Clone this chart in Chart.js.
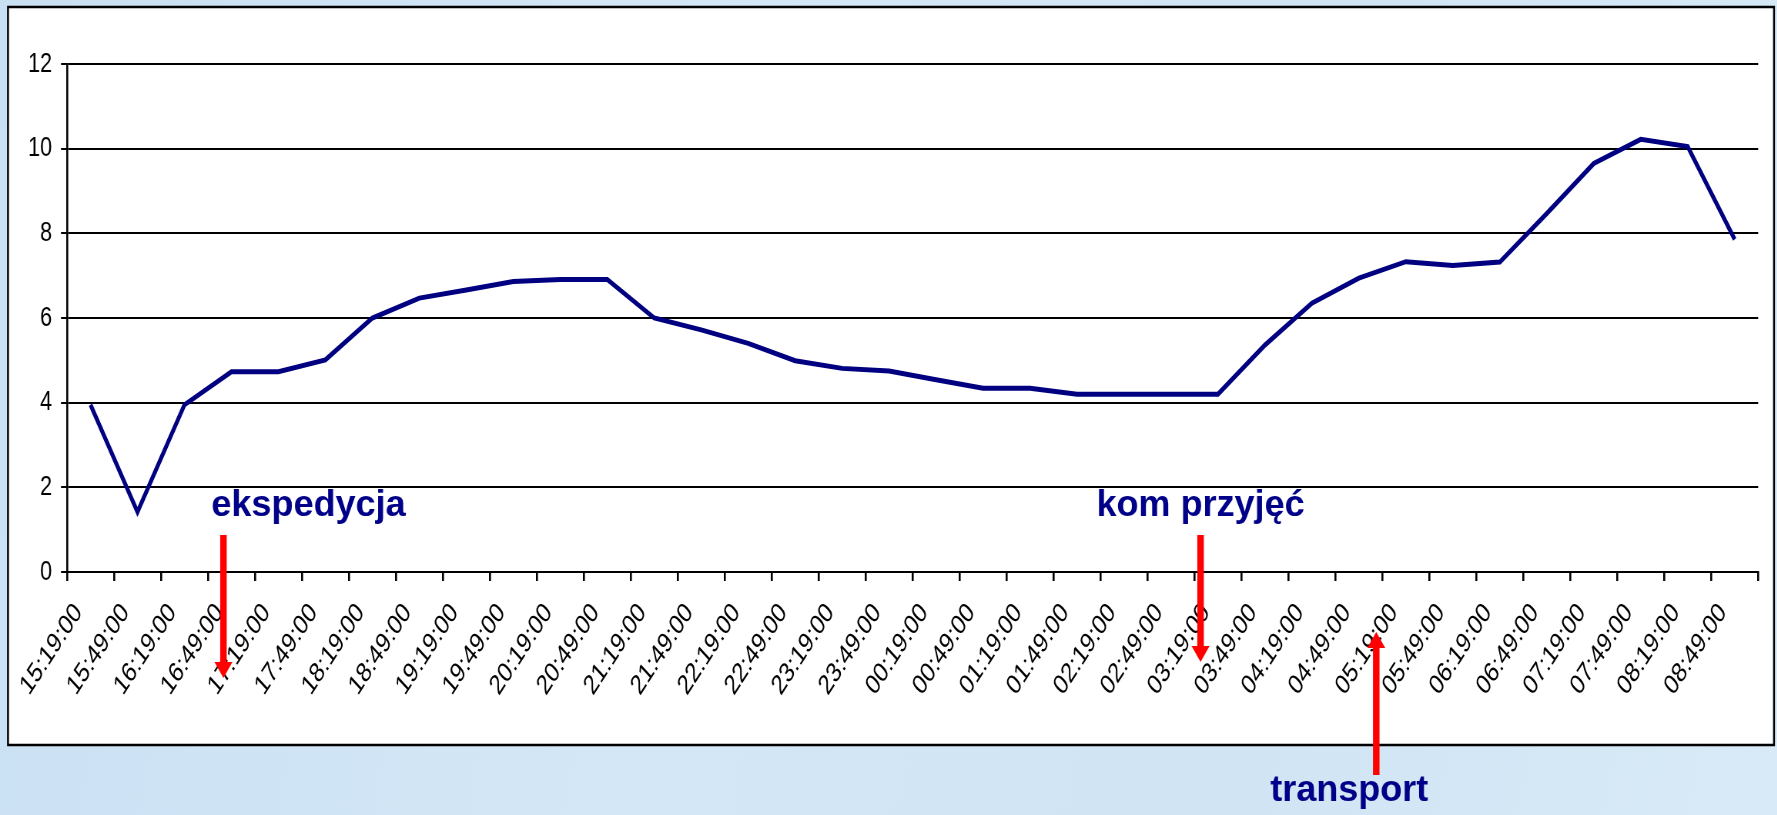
<!DOCTYPE html>
<html>
<head>
<meta charset="utf-8">
<script src="https://cdn.jsdelivr.net/npm/chart.js@4"></script>
<style>
  html, body { margin: 0; padding: 0; }
  body {
    width: 1777px; height: 815px; overflow: hidden; position: relative;
    background: linear-gradient(100deg, #c9e0f3 0%, #d4e7f6 40%, #d0e4f4 70%, #d8eaf7 100%);
  }
  /* the chart is drawn wide and squeezed horizontally, like a stretched embedded chart */
  #chart { position: absolute; left: 0; top: 0; transform-origin: 0 0; }
</style>
</head>
<body>
<canvas id="chart"></canvas>
<script>
// half-hour readings, 15:19 through 08:49
const times = [
  '15:19:00', '15:49:00', '16:19:00', '16:49:00', '17:19:00', '17:49:00',
  '18:19:00', '18:49:00', '19:19:00', '19:49:00', '20:19:00', '20:49:00',
  '21:19:00', '21:49:00', '22:19:00', '22:49:00', '23:19:00', '23:49:00',
  '00:19:00', '00:49:00', '01:19:00', '01:49:00', '02:19:00', '02:49:00',
  '03:19:00', '03:49:00', '04:19:00', '04:49:00', '05:19:00', '05:49:00',
  '06:19:00', '06:49:00', '07:19:00', '07:49:00', '08:19:00', '08:49:00'
];
const values = [
  3.95, 1.42, 3.95, 4.73, 4.73, 5.01, 6.0, 6.47, 6.66, 6.86, 6.91, 6.91,
  6.0, 5.72, 5.40, 4.99, 4.81, 4.75, 4.54, 4.34, 4.34, 4.20, 4.20, 4.20,
  4.20, 5.36, 6.35, 6.94, 7.33, 7.24, 7.32, 8.47, 9.65, 10.22, 10.05, 7.86
];
const yTicks = [0, 2, 4, 6, 8, 10, 12];

// event markers: text, position along the time axis (category index)
const noteText = ['ekspedycja', 'kom przyjęć', 'transport'];
const noteAt = [2.83, 23.63, 27.37];

const SQ = 0.77;                 // horizontal squeeze
const W = 1777, H = 815;
const CW = Math.round(W / SQ);   // canvas width before squeezing
const sx = v => v / SQ;          // screen px -> canvas px (horizontal)

const NAVY = '#000088';
const RED = '#ff0000';
const FONT = '"Liberation Sans", Arial, sans-serif';

const canvas = document.getElementById('chart');
canvas.width = CW;
canvas.height = H;
canvas.style.width = CW + 'px';
canvas.style.height = H + 'px';
canvas.style.transform = 'scaleX(' + SQ + ')';

// text drawn without the squeeze
function plainText(ctx, text, x, y, align) {
  ctx.save();
  ctx.translate(x, y);
  ctx.scale(1 / SQ, 1);
  ctx.textAlign = align;
  ctx.fillText(text, 0, 0);
  ctx.restore();
}

function arrow(ctx, x, y0, y1) {
  // shaft from y0 to the tip at y1
  const dir = y1 > y0 ? 1 : -1;
  const head = 16;
  ctx.save();
  ctx.strokeStyle = RED;
  ctx.fillStyle = RED;
  ctx.lineWidth = sx(6.5);
  ctx.beginPath();
  ctx.moveTo(x, y0);
  ctx.lineTo(x, y1 - dir * head);
  ctx.stroke();
  ctx.beginPath();
  ctx.moveTo(x - sx(9), y1 - dir * head);
  ctx.lineTo(x + sx(9), y1 - dir * head);
  ctx.lineTo(x, y1);
  ctx.closePath();
  ctx.fill();
  ctx.restore();
}

const frame = {
  id: 'frame',
  beforeDraw(chart) {
    const ctx = chart.ctx;
    ctx.save();
    ctx.fillStyle = '#ffffff';
    ctx.fillRect(sx(8), 7, sx(1766), 738);
    ctx.strokeStyle = '#000000';
    ctx.lineWidth = 2.5;
    ctx.strokeRect(sx(8), 7, sx(1766), 738);
    ctx.restore();
  },
  afterDraw(chart) {
    const ctx = chart.ctx;
    const x = chart.scales.x;
    const xs = noteAt.map(v => x.getPixelForValue(v));

    ctx.save();
    ctx.font = 'bold 36px ' + FONT;
    ctx.fillStyle = NAVY;
    ctx.textBaseline = 'alphabetic';

    plainText(ctx, noteText[0], xs[0] - sx(12), 516, 'left');
    arrow(ctx, xs[0], 535, 678);

    plainText(ctx, noteText[1], xs[1], 516, 'center');
    arrow(ctx, xs[1], 535, 662);

    plainText(ctx, noteText[2], xs[2] - sx(27), 801, 'center');
    arrow(ctx, xs[2], 775, 632);
    ctx.restore();
  }
};

new Chart(canvas, {
  type: 'line',
  data: {
    labels: times,
    datasets: [{
      data: values,
      borderColor: '#000080',
      borderWidth: 5,
      pointRadius: 0,
      tension: 0,
      fill: false
    }]
  },
  options: {
    responsive: false,
    devicePixelRatio: 1,
    animation: false,
    layout: { padding: { left: sx(10), right: sx(19), top: 64, bottom: 0 } },
    plugins: {
      legend: { display: false },
      tooltip: { enabled: false }
    },
    scales: {
      x: {
        offset: true,
        grid: {
          offset: true,
          drawOnChartArea: false,
          color: '#000000',
          lineWidth: sx(2),
          tickLength: 9
        },
        border: { color: '#000000', width: 2 },
        ticks: {
          autoSkip: false,
          minRotation: 50,
          maxRotation: 50,
          labelOffset: -sx(12),
          padding: 16,
          color: '#000000',
          font: { family: FONT, size: 28 }
        },
        afterFit(scale) { scale.height = 243; }
      },
      y: {
        min: 0,
        max: 12,
        afterBuildTicks(scale) { scale.ticks = yTicks.map(v => ({ value: v })); },
        grid: { color: '#000000', lineWidth: 2, tickLength: sx(6) },
        border: { color: '#000000', width: sx(2) },
        ticks: {
          padding: sx(9),
          color: '#000000',
          font: { family: FONT, size: 28 }
        },
        afterFit(scale) { scale.width = sx(57); }
      }
    }
  },
  plugins: [frame]
});
</script>
</body>
</html>
